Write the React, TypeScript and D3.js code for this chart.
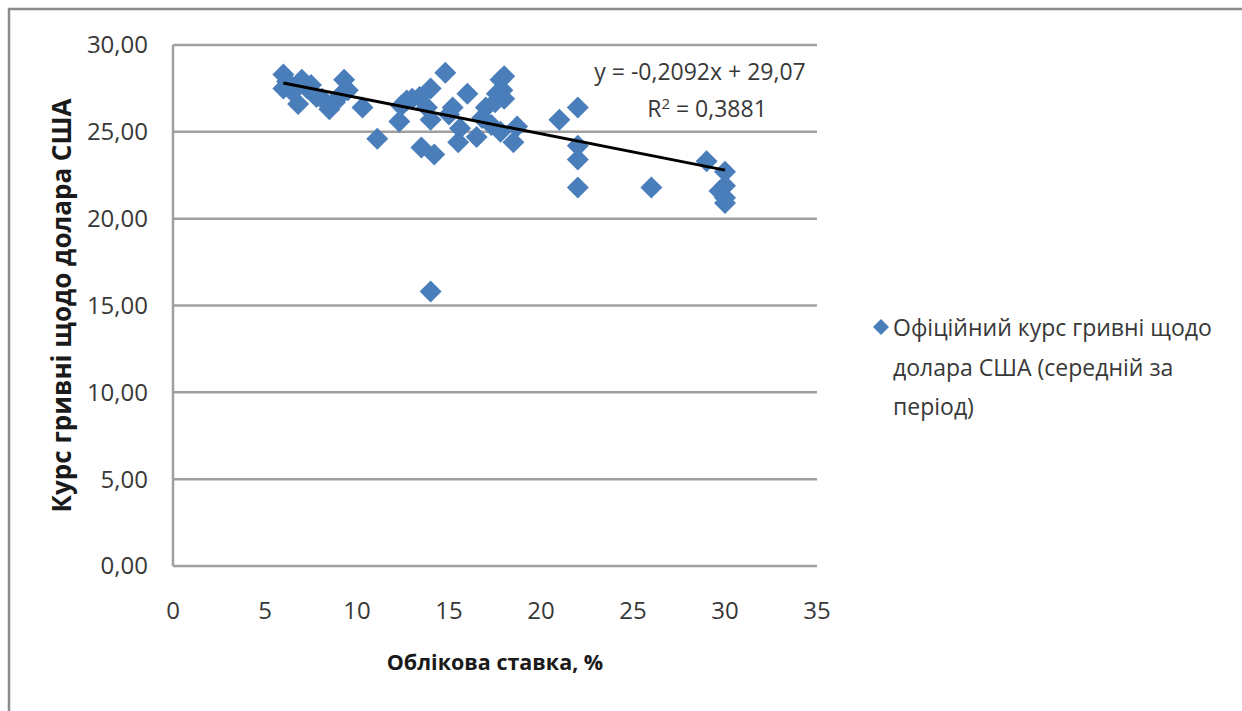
import { useMemo } from 'react'
import * as d3 from 'd3'

// Облікова ставка (%) vs офіційний курс гривні щодо долара США
const rates = [
  6.0, 6.0, 6.2, 6.5, 6.8, 7.0, 7.3, 7.5, 7.8, 8.1, 8.5, 8.8, 9.1, 9.3, 9.5,
  10.3, 11.1, 12.3, 12.4, 12.7, 13.0, 13.4, 13.5, 13.8, 14.0, 14.0, 14.0, 14.2,
  14.8, 15.0, 15.2, 15.5, 15.6, 16.0, 16.5, 16.8, 17.0, 17.3, 17.5, 17.6, 17.8,
  17.8, 17.9, 18.0, 18.0, 18.5, 18.7, 21.0, 22.0, 22.0, 22.0, 22.0, 26.0, 29.0,
  30.0, 29.7, 30.0, 30.0, 30.0
]
const exchange = [
  28.3, 27.5, 27.9, 27.3, 26.6, 28.0, 27.5, 27.7, 27.0, 26.9, 26.3, 26.7, 27.1, 28.0, 27.4,
  26.4, 24.6, 25.6, 26.5, 26.8, 26.9, 27.0, 24.1, 26.4, 27.5, 25.7, 15.8, 23.7,
  28.4, 26.0, 26.4, 24.4, 25.2, 27.2, 24.7, 25.8, 26.4, 25.4, 26.7, 27.2, 25.0,
  28.0, 27.4, 28.2, 26.9, 24.4, 25.3, 25.7, 26.4, 24.2, 23.4, 21.8, 21.8, 23.3,
  22.7, 21.6, 21.9, 21.2, 20.9
]
const xTicks = [0, 5, 10, 15, 20, 25, 30, 35]
const yTicks = [0, 5, 10, 15, 20, 25, 30]
const slope = -0.2092
const intercept = 29.07
const equationLabel = 'y = -0,2092x + 29,07'
const r2Label = '0,3881'
const legendLines = ['Офіційний курс гривні щодо', 'долара США (середній за', 'період)']
const xTitle = 'Облікова ставка, %'
const yTitle = 'Курс гривні щодо долара США'

const FONT = '"Open Sans", "Noto Sans", sans-serif'
const BLUE = '#4a7ebb'
const TEXT = '#383838'

export default function App() {
  const width = 1242
  const height = 711
  const plot = { left: 173, right: 817, top: 45, bottom: 566 }

  const x = d3.scaleLinear().domain([0, 35]).range([plot.left, plot.right])
  const y = d3.scaleLinear().domain([0, 30]).range([plot.bottom, plot.top])

  const points = useMemo(() => rates.map((r, i) => ({ r, v: exchange[i] })), [])
  const [xMin, xMax] = d3.extent(rates) as [number, number]
  const trend = d3.line<number>()
    .x(d => x(d))
    .y(d => y(slope * d + intercept))([xMin, xMax])

  const fmt = (v: number) => v.toFixed(2).replace('.', ',')
  const diamond = (cx: number, cy: number, r: number) =>
    `M${cx},${cy - r}L${cx + r},${cy}L${cx},${cy + r}L${cx - r},${cy}Z`

  return (
    <svg width={width} height={height}
      style={{ position: 'absolute', left: 0, top: 0, background: '#fff' }}
      fontFamily={FONT}>
      {/* chart frame, runs past right and bottom edges */}
      <rect x={9} y={9} width={1400} height={900} fill="none" stroke="#8c8c8c" strokeWidth={2.5} />

      {/* gridlines */}
      {yTicks.map(t => (
        <line key={'g' + t} x1={plot.left} x2={plot.right} y1={y(t)} y2={y(t)}
          stroke="#a0a0a0" strokeWidth={2.5} />
      ))}
      <line x1={plot.left} x2={plot.left} y1={plot.top} y2={plot.bottom} stroke="#a0a0a0" strokeWidth={2.5} />

      {/* y tick labels */}
      {yTicks.map(t => (
        <text key={'y' + t} x={148} y={y(t)} dy="0.35em" textAnchor="end"
          fontSize={24} fontWeight={500} fill={TEXT}>{fmt(t)}</text>
      ))}
      {/* x tick labels */}
      {xTicks.map(t => (
        <text key={'x' + t} x={x(t)} y={619} textAnchor="middle"
          fontSize={24} fontWeight={500} fill={TEXT}>{t}</text>
      ))}

      {/* axis titles */}
      <text x={495} y={670} textAnchor="middle" fontSize={21.5} fontWeight="bold" fill="#1a1a1a">{xTitle}</text>
      <text transform={`translate(71, ${(plot.top + plot.bottom) / 2}) rotate(-90)`}
        textAnchor="middle" fontSize={26} fontWeight="bold" fill="#1a1a1a">{yTitle}</text>

      {/* points */}
      {points.map((p, i) => (
        <path key={i} d={diamond(x(p.r), y(p.v), 11)} fill={BLUE} />
      ))}

      {/* trendline */}
      <path d={trend ?? ''} fill="none" stroke="#000" strokeWidth={3} />
      <text x={700} y={80} textAnchor="middle" fontSize={23} fontWeight={500} fill={TEXT}>{equationLabel}</text>
      <text x={707} y={117} textAnchor="middle" fontSize={23} fontWeight={500} fill={TEXT}>
        R<tspan dy={-8} fontSize={15}>2</tspan><tspan dy={8}> = {r2Label}</tspan>
      </text>

      {/* legend */}
      <path d={diamond(881, 327, 8)} fill={BLUE} />
      {legendLines.map((l, i) => (
        <text key={i} x={893} y={336 + i * 39.5} fontSize={23} fontWeight={500} fill={TEXT}>{l}</text>
      ))}
    </svg>
  )
}
